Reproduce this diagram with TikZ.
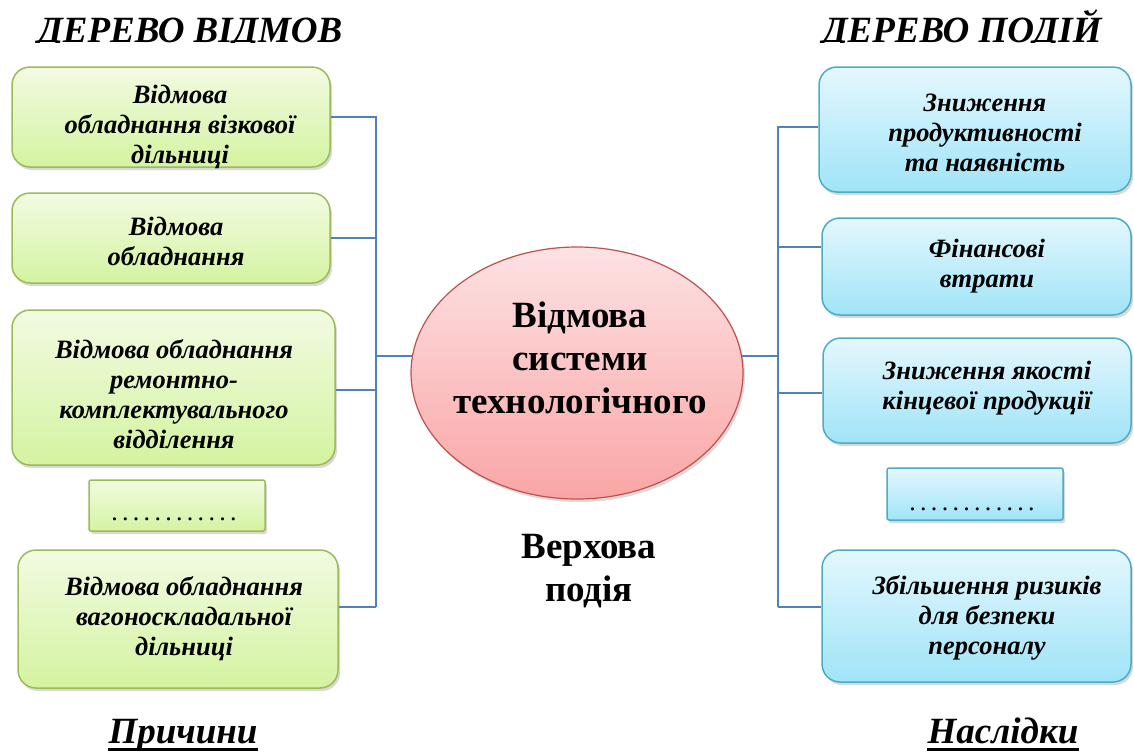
\documentclass[tikz,border=0pt]{standalone}
\usepackage{fontspec}
\setmainfont{Liberation Serif}
\usetikzlibrary{shapes.geometric,shadows}
\definecolor{gborder}{RGB}{155,187,89}
\definecolor{gtop}{RGB}{242,251,226}
\definecolor{gbot}{RGB}{212,243,160}
\definecolor{bborder}{RGB}{75,172,198}
\definecolor{btop}{RGB}{228,247,253}
\definecolor{bbot}{RGB}{160,228,248}
\definecolor{rborder}{RGB}{192,80,77}
\definecolor{rtop}{RGB}{253,226,228}
\definecolor{rbot}{RGB}{250,165,165}
\definecolor{connc}{RGB}{79,129,189}
\begin{document}
\begin{tikzpicture}[x=1pt,y=-1pt,
  shd/.style={drop shadow={shadow xshift=2pt,shadow yshift=-3pt,opacity=0.3}},
  gbox/.style={draw=gborder,line width=1.5pt,rounded corners=18pt,top color=gtop,bottom color=gbot,shd,inner sep=0pt},
  gdots/.style={draw=gborder,line width=1.5pt,rounded corners=2pt,top color=gtop,bottom color=gbot,shd,inner sep=0pt},
  bbox/.style={draw=bborder,line width=1.5pt,rounded corners=18pt,top color=btop,bottom color=bbot,shd,inner sep=0pt},
  bdots/.style={draw=bborder,line width=1.5pt,rounded corners=2pt,top color=btop,bottom color=bbot,shd,inner sep=0pt},
  ellst/.style={ellipse,draw=rborder,line width=1.2pt,top color=rtop,bottom color=rbot,shd,inner sep=0pt},
  btxt/.style={font=\bfseries\itshape\fontsize{26.5}{30}\selectfont,align=center,inner sep=0pt},
  dtxt/.style={font=\fontsize{26}{28}\selectfont,inner sep=0pt},
  ctxt/.style={font=\bfseries\fontsize{37}{43}\selectfont,align=center,inner sep=0pt},
  ttxt/.style={font=\bfseries\itshape\fontsize{37}{40}\selectfont,inner sep=0pt},
  uline/.style={line width=2.5pt},
  conn/.style={draw=connc,line width=2pt}]
\useasboundingbox (0,0) rectangle (1134,753);
\newcommand{\dotrow}{.\kern4.3pt.\kern4.3pt.\kern4.3pt.\kern4.3pt.\kern4.3pt.\kern4.3pt.\kern4.3pt.\kern4.3pt.\kern4.3pt.\kern4.3pt.\kern4.3pt.}
% titles (clipped at baseline as in the picture)
\begin{scope}
\clip (0,0) rectangle (1134,42);
\node[ttxt,anchor=base] (tl) at (190,42) {ДЕРЕВО ВІДМОВ};
\node[ttxt,anchor=base] (tr) at (962,42) {ДЕРЕВО ПОДІЙ};
\end{scope}
\coordinate (lb) at (376,607);
\coordinate (rb) at (778,607);
% left boxes
\node[gbox,minimum width=318pt,minimum height=100pt] (c1) at (171,117) {};
\node[gbox,minimum width=318pt,minimum height=90pt] (c2) at (171,238) {};
\node[gbox,minimum width=323pt,minimum height=155pt] (c3) at (173.5,387.5) {};
\node[gdots,minimum width=176pt,minimum height=51pt] (c4) at (177,505.5) {};
\node[gbox,minimum width=320pt,minimum height=138pt] (c5) at (178,619) {};
% right boxes
\node[bbox,minimum width=312pt,minimum height=125pt] (r1) at (975,129.5) {};
\node[bbox,minimum width=309pt,minimum height=97pt] (r2) at (976.5,266.5) {};
\node[bbox,minimum width=308pt,minimum height=105pt] (r3) at (977,390.5) {};
\node[bdots,minimum width=176pt,minimum height=52pt] (r4) at (975,494) {};
\node[bbox,minimum width=309pt,minimum height=132pt] (r5) at (976.5,616) {};
% ellipse
\node[ellst,minimum width=332pt,minimum height=252pt] (ell) at (577,373) {};
% connectors
\draw[conn] (c1.east) -| (lb);
\draw[conn] (c2.east) -- (c2.east -| lb);
\draw[conn] ([yshift=-2.5pt]c3.east) -- ([yshift=-2.5pt]c3.east -| lb);
\draw[conn] ([yshift=12pt]c5.east) -- ([yshift=12pt]c5.east -| lb);
\draw[conn] (ell.174) -- (ell.174 -| lb);
\draw[conn] ([yshift=2.5pt]r1.west) -| (rb);
\draw[conn] ([yshift=19.5pt]r2.west) -- ([yshift=19.5pt]r2.west -| rb);
\draw[conn] ([yshift=-2.5pt]r3.west) -- ([yshift=-2.5pt]r3.west -| rb);
\draw[conn] ([yshift=9pt]r5.west) -- ([yshift=9pt]r5.west -| rb);
\draw[conn] (ell.6) -- (ell.6 -| rb);
% texts
\node[btxt] (tc1) at (180,127) {Відмова\\обладнання візкової\\дільниці};
\node[btxt] (tc2) at (176,241) {Відмова\\обладнання};
\node[btxt] (tc3) at (174,394) {Відмова обладнання\\ремонтно-\\комплектувального\\відділення};
\node[dtxt,anchor=base] (tc4) at (174,520) {\dotrow};
\node[btxt] (tc5) at (184,619) {Відмова обладнання\\вагоноскладальної\\дільниці};
\node[btxt] (tr1) at (985,133) {Зниження\\продуктивності\\та наявність};
\node[btxt] (tr2) at (987,266) {Фінансові\\втрати};
\node[btxt] (tr3) at (987,388) {Зниження якості\\кінцевої продукції};
\node[dtxt,anchor=base] (tr4) at (972,510) {\dotrow};
\node[btxt] (tr5) at (987,618) {Збільшення ризиків\\для безпеки\\персоналу};
\node[ctxt] (te) at (580,358) {Відмова\\системи\\технологічного};
\node[ctxt] (tv) at (589,571) {Верхова\\подія};
\node[ttxt,anchor=base] (bl) at (183,743) {Причини};
\node[ttxt,anchor=base] (br) at (1003,743) {Наслідки};
\draw[uline] ([yshift=-6.5pt]bl.base west) -- ([yshift=-6.5pt]bl.base east);
\draw[uline] ([yshift=-6.5pt]br.base west) -- ([yshift=-6.5pt]br.base east);
\end{tikzpicture}
\end{document}
